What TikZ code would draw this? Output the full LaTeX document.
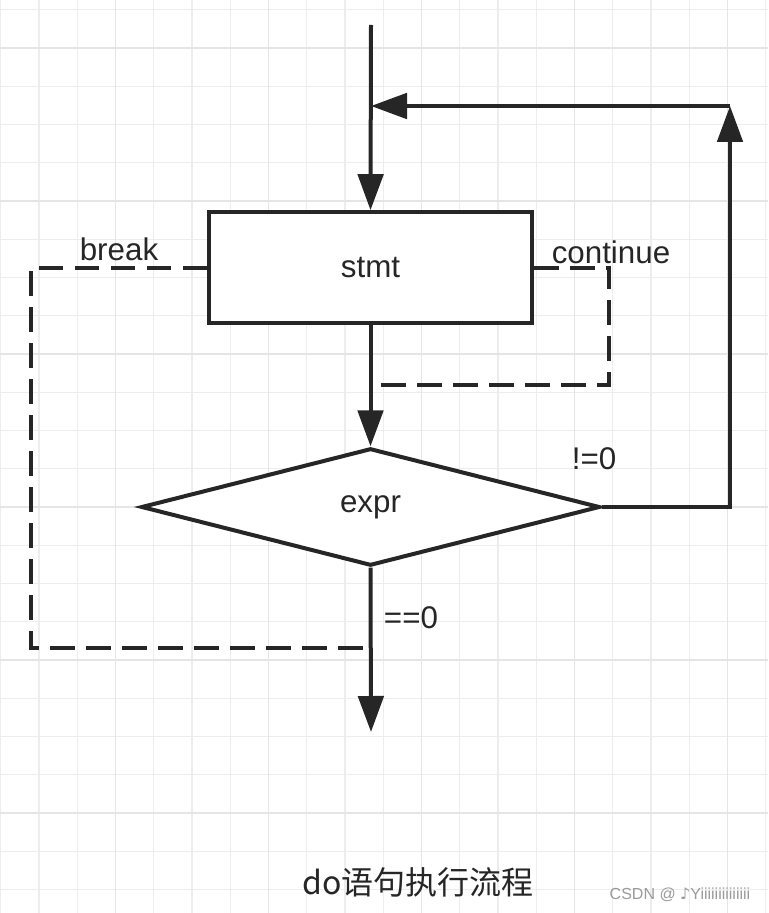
\documentclass[tikz,border=0pt]{standalone}
\usepackage{fontspec}
\setmainfont{Liberation Sans}
\newfontfamily\cjkfont{Noto Sans CJK SC}
\newfontfamily\notefont{DejaVu Sans}
\usetikzlibrary{shapes.geometric,arrows.meta}
\definecolor{ink}{HTML}{262626}
\definecolor{gridline}{HTML}{EDEDED}
\definecolor{gridmajor}{HTML}{E5E5E5}
\definecolor{wmgray}{HTML}{9A9A9A}
\tikzset{
  block/.style={draw=ink,line width=3pt,fill=white,minimum width=242pt,minimum height=83pt,inner sep=0pt},
  test/.style={diamond,draw=ink,line width=3pt,fill=white,minimum width=344pt,minimum height=88pt,inner sep=0pt},
  flow/.style={draw=ink,line width=3pt,-{Triangle[length=27pt,width=19pt]}},
  jump/.style={draw=ink,line width=3pt,dash pattern=on 18.5pt off 8.5pt},
  lbl/.style={font=\fontsize{23.5}{27}\selectfont,text=ink},
}

\begin{document}
\begin{tikzpicture}[x=0.75pt,y=-0.75pt]
        \useasboundingbox[fill=white] (0,0) rectangle (768,913);
        % background grid
        \foreach \k in {0,...,20} {
          \pgfmathsetmacro\gx{0.7+38.25*\k}
          \draw[gridline,line width=1pt] (\gx,0) -- (\gx,913);
        }
        \foreach \k in {0,...,23} {
          \pgfmathsetmacro\gy{9.8+38.25*\k}
          \draw[gridline,line width=1pt] (0,\gy) -- (768,\gy);
        }
        \foreach \k in {3,7,11,15,19} {
          \pgfmathsetmacro\gx{0.7+38.25*\k}
          \draw[gridmajor,line width=1pt] (\gx,0) -- (\gx,913);
        }
        \foreach \k in {1,5,9,13,17,21} {
          \pgfmathsetmacro\gy{9.8+38.25*\k}
          \draw[gridmajor,line width=1pt] (0,\gy) -- (768,\gy);
        }

        % blocks
        \node[block,lbl] (stmt) at (370.5,267.5) {stmt};
        \node[test,lbl] (expr) at (370.5,507) {expr};

        \coordinate (entry) at (371,25);
        \coordinate (exit) at (371,732);
        \coordinate (loopr) at (730,106);
        \coordinate (join) at (371,106);
        \coordinate (brkl) at (31,648);
        \coordinate (brkm) at (371,648);
        \coordinate (cntr) at (609,385);
        \coordinate (cntm) at (371,385);

        % solid flow
        \draw[flow] (entry) -- (stmt.north);
        \draw[flow] (stmt.south) -- (expr.north);
        \draw[flow] (expr.south) -- (exit);
        \draw[flow] (expr.east) -| (loopr);
        \draw[flow] (loopr) -- (join);

        % break / continue
        \draw[jump] (stmt.west) -| (brkl) -- (brkm);
        \draw[jump] (stmt.east) -| (cntr) -- (cntm);

        \node[lbl] (brk) at (119,249) {break};
        \node[lbl] (cnt) at (611,252) {continue};
        \node[lbl] (ne) at (594,459) {!=0};
        \node[lbl] (eq) at (411,618) {==0};

        \node[font=\cjkfont\fontsize{24}{28}\selectfont,text=ink] (title) at (418,882) {do语句执行流程};
        \node[font=\fontsize{12}{14}\selectfont,text=wmgray] (wm) at (680,895) {CSDN @ {\notefont ♪}Yiiiiiiiiiiiiii};
      \end{tikzpicture}
\end{document}
